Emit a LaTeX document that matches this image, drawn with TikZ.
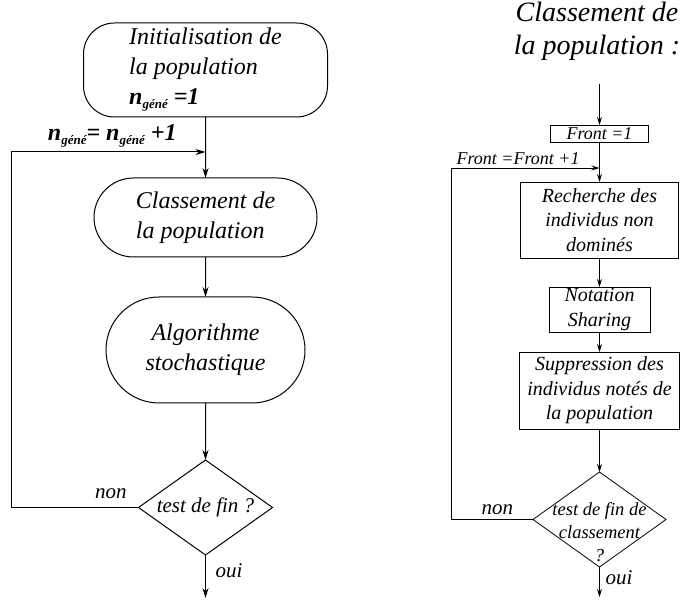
\documentclass[tikz,border=0pt]{standalone}
\usepackage{fontspec}
\setmainfont{Liberation Serif}[ItalicFont={Liberation Serif Italic},BoldItalicFont={Liberation Serif Bold Italic}]
\usetikzlibrary{shapes,arrows.meta,positioning}

\newcommand{\ngene}{\textbf{\textit{n}}\raisebox{-4pt}{\fontsize{13}{13}\selectfont\bfseries\itshape géné}}

\begin{document}
\begin{tikzpicture}[
    x=1pt, y=1pt,
    outer sep=0pt,
    font=\rmfamily,
    main node/.style={draw,line width=1pt,inner sep=0pt,font=\rmfamily\fontsize{24}{30}\selectfont\itshape},
    round node/.style={main node,rounded rectangle,rounded rectangle arc length=180},
    test node/.style={diamond,draw,inner sep=0pt},
    sub node/.style={rectangle,draw,line width=0.8pt,inner sep=0pt,align=center,font=\rmfamily\fontsize{20}{24.5}\selectfont\itshape},
    front node/.style={rectangle,draw,line width=0.8pt,inner sep=0pt,font=\rmfamily\fontsize{18}{20}\selectfont\itshape},
    title node/.style={align=center,inner sep=0pt,font=\rmfamily\fontsize{28}{33}\selectfont\itshape},
    label node/.style={inner sep=0pt,align=center,font=\rmfamily\fontsize{21}{21}\selectfont\itshape},
    arrow/.style={-{Stealth[length=10pt,width=6pt]},line width=1pt},
    small arrow/.style={-{Stealth[length=8pt,width=5pt]},line width=0.8pt}
]
\useasboundingbox (0,0) rectangle (680,-601);

% Algorithme general
\node[main node, rectangle, rounded corners=31pt, minimum width=244pt, minimum height=94pt, align=left] (init) at (205.5,-70) {Initialisation de\\la population\\{\bfseries\ngene\ =1}};
\node[round node, minimum width=223pt, minimum height=79pt, align=left, below=61pt of init] (classe) {Classement de\\la population};
\node[round node, minimum width=199pt, minimum height=106pt, align=center, below=40pt of classe] (algo) {Algorithme\\stochastique};
\node[test node, line width=1pt, minimum width=134pt, minimum height=95pt, below=57pt of algo,
    label={[label node]center:test de fin ?}] (test) {};

\coordinate[below=35pt of init] (loop1);
\coordinate[below=43pt of test] (end1);

\draw[arrow] (init) -- (classe);
\draw[arrow] (classe) -- (algo);
\draw[arrow] (algo) -- (test);
\draw[arrow] (test) -- (end1);
\draw[arrow] (test.west) -- ++(-127,0) |- (loop1);

\node[label node, font=\rmfamily\fontsize{24}{24}\selectfont\bfseries\itshape, above left=5pt and 29pt of loop1] (incr1) {\ngene= \ngene\ +1};
\node[label node, above left=9pt and 12pt of test.west] (non1) {non};
\node[label node, below right=9pt and 10pt of test.south] (oui1) {oui};

% Classement de la population
\node[title node] (title) at (597,-31) {Classement de\\la population :};
\node[front node, minimum width=98pt, minimum height=17pt] (front1) at (599.5,-133.5) {Front =1};
\node[sub node, minimum width=158pt, minimum height=76pt, below=40pt of front1] (rech) {Recherche des\\individus non\\dominés};
\node[sub node, minimum width=101pt, minimum height=45pt, below=29pt of rech] (nota) {Notation\\Sharing};
\node[sub node, minimum width=160pt, minimum height=77pt, below=20pt of nota] (supp) {Suppression des\\individus notés de\\la population};
\node[test node, line width=0.8pt, minimum width=133pt, minimum height=95pt, below=43pt of supp,
    label={[label node, font=\rmfamily\fontsize{18.5}{23}\selectfont\itshape, yshift=-13pt]center:test de fin de\\classement\\?}] (test2) {};

\coordinate[below=26pt of front1] (loop2);
\coordinate[below=30pt of test2] (end2);

\draw[small arrow, shorten <=24pt] (front1 |- title.south) -- (front1);
\draw[small arrow] (front1) -- (rech);
\draw[small arrow] (rech) -- (nota);
\draw[small arrow] (nota) -- (supp);
\draw[small arrow] (supp) -- (test2);
\draw[small arrow] (test2) -- (end2);
\draw[small arrow] (test2.west) -- ++(-82,0) |- (loop2);

\node[label node, font=\rmfamily\fontsize{18}{18}\selectfont\itshape, above left=3pt and 20pt of loop2] (incr2) {Front =Front +1};
\node[label node, above left=5pt and 20pt of test2.west] (non2) {non};
\node[label node, below right=4pt and 6pt of test2.south] (oui2) {oui};

\end{tikzpicture}
\end{document}
